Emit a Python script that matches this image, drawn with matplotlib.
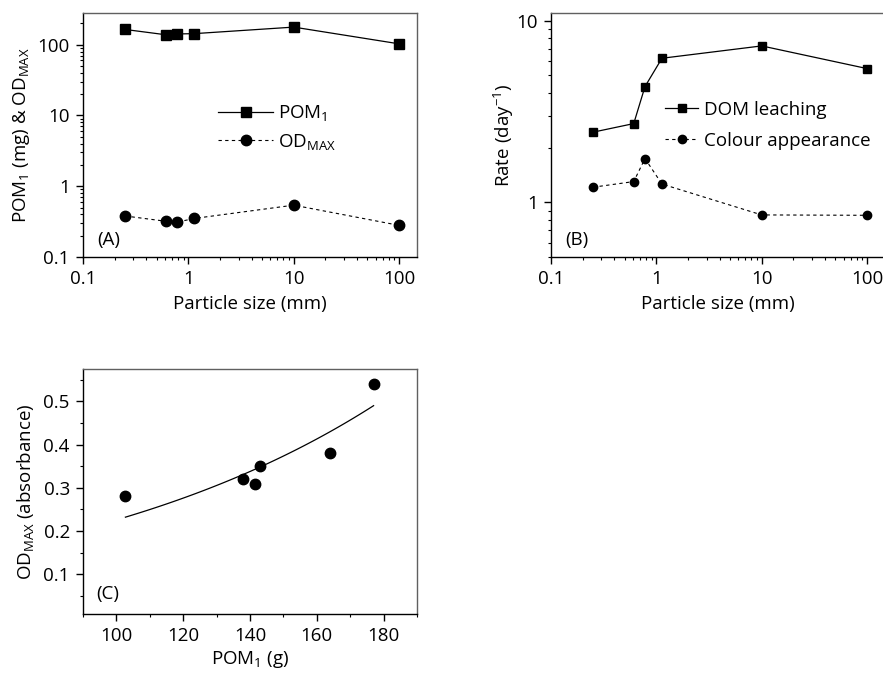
import numpy as np
import matplotlib
matplotlib.use("Agg")
import matplotlib.pyplot as plt
from matplotlib.ticker import FixedLocator, FixedFormatter, LogLocator, NullFormatter, MultipleLocator

plt.rcParams['font.family'] = ['Open Sans', 'DejaVu Sans']
plt.rcParams['mathtext.default'] = 'regular'
plt.rcParams['font.size'] = 13.5

# ---- data ----
particle_size = [0.25, 0.61, 0.78, 1.13, 10, 100]
pom1 = [164, 138, 141.6, 143, 177, 102.7]
od_max = [0.38, 0.32, 0.31, 0.35, 0.54, 0.28]
dom_leaching = [2.43, 2.71, 4.33, 6.2, 7.25, 5.44]
colour_appearance = [1.21, 1.30, 1.74, 1.26, 0.852, 0.848]
# exponential fit OD = a * exp(b * POM1) (panel C)
fit_a = 0.0826
fit_b = 0.01006

x_ticks = [0.1, 1, 10, 100]
x_ticklabels = ['0.1', '1', '10', '100']

W, H = 883, 673
FS = 13.5
fig = plt.figure(figsize=(W / 100, H / 100), dpi=100)

def box(l, r, t, b):
    return [l / W, (H - b) / H, (r - l) / W, (b - t) / H]

def style(ax):
    for s in ['left', 'bottom']:
        ax.spines[s].set_color('black')
        ax.spines[s].set_linewidth(1.0)
    for s in ['top', 'right']:
        ax.spines[s].set_color('#606060')
        ax.spines[s].set_linewidth(1.0)
    ax.tick_params(which='both', direction='out', top=False, right=False, labelsize=FS)
    ax.tick_params(which='major', length=5, width=1, pad=4.5)
    ax.tick_params(which='minor', length=2.5, width=0.8)

# ---- Panel A ----
axA = fig.add_axes(box(83, 417, 13, 257))
axA.set_xscale('log'); axA.set_yscale('log')
axA.plot(particle_size, pom1, '-', color='black', lw=0.9, marker='s', ms=7.5,
         mfc='black', mec='black', label='POM$_1$')
axA.plot(particle_size, od_max, '--', color='black', lw=0.8, dashes=(3, 3), marker='o', ms=7.5,
         mfc='black', mec='black', label='OD$_{MAX}$')
axA.set_xlim(0.1, 148)
axA.set_ylim(0.1, 280)
axA.xaxis.set_major_locator(FixedLocator(x_ticks))
axA.xaxis.set_major_formatter(FixedFormatter(x_ticklabels))
axA.xaxis.set_minor_locator(LogLocator(base=10, subs=np.arange(2, 10)))
axA.xaxis.set_minor_formatter(NullFormatter())
axA.yaxis.set_major_locator(FixedLocator([0.1, 1, 10, 100]))
axA.yaxis.set_major_formatter(FixedFormatter(['0.1', '1', '10', '100']))
axA.yaxis.set_minor_locator(LogLocator(base=10, subs=np.arange(2, 10)))
axA.yaxis.set_minor_formatter(NullFormatter())
axA.set_xlabel('Particle size (mm)', labelpad=5)
axA.set_ylabel('POM$_1$ (mg) & OD$_{MAX}$', labelpad=4)
style(axA)
axA.legend(loc='upper left', bbox_to_anchor=(0.355, 0.70), frameon=False, handlelength=2.9,
           handletextpad=0.3, labelspacing=0.45, fontsize=FS)
axA.text(0.042, 0.07, '(A)', transform=axA.transAxes, fontsize=FS, va='center', ha='left')

# ---- Panel B ----
axB = fig.add_axes(box(551, 885, 13, 257))
axB.set_xscale('log'); axB.set_yscale('log')
axB.plot(particle_size, dom_leaching, '-', color='black', lw=0.9, marker='s', ms=6,
         mfc='black', mec='black', label='DOM leaching')
axB.plot(particle_size, colour_appearance, '--', color='black', lw=0.8, dashes=(3, 3), marker='o', ms=6,
         mfc='black', mec='black', label='Colour appearance')
axB.set_xlim(0.1, 148)
axB.set_ylim(0.5, 11)
axB.xaxis.set_major_locator(FixedLocator(x_ticks))
axB.xaxis.set_major_formatter(FixedFormatter(x_ticklabels))
axB.xaxis.set_minor_locator(LogLocator(base=10, subs=np.arange(2, 10)))
axB.xaxis.set_minor_formatter(NullFormatter())
axB.yaxis.set_major_locator(FixedLocator([1, 10]))
axB.yaxis.set_major_formatter(FixedFormatter(['1', '10']))
axB.yaxis.set_minor_locator(LogLocator(base=10, subs=np.arange(2, 10)))
axB.yaxis.set_minor_formatter(NullFormatter())
axB.set_xlabel('Particle size (mm)', labelpad=5)
axB.set_ylabel('Rate (day$^{-1}$)', labelpad=0)
style(axB)
axB.legend(loc='upper left', bbox_to_anchor=(0.29, 0.71), frameon=False, handlelength=1.8,
           handletextpad=0.3, labelspacing=0.7, fontsize=FS)
axB.text(0.042, 0.07, '(B)', transform=axB.transAxes, fontsize=FS, va='center', ha='left')

# ---- Panel C ----
axC = fig.add_axes(box(83, 417, 369, 614))
axC.plot(pom1, od_max, 'o', color='black', ms=7.5, mfc='black', mec='black', lw=0)
xf = np.linspace(min(pom1), max(pom1), 100)
axC.plot(xf, fit_a * np.exp(fit_b * xf), '-', color='black', lw=0.9)
axC.set_xlim(90, 190)
axC.set_ylim(0.008, 0.575)
axC.xaxis.set_major_locator(FixedLocator([100, 120, 140, 160, 180]))
axC.xaxis.set_minor_locator(MultipleLocator(10))
axC.yaxis.set_major_locator(FixedLocator([0.1, 0.2, 0.3, 0.4, 0.5]))
axC.yaxis.set_major_formatter(FixedFormatter(['0.1', '0.2', '0.3', '0.4', '0.5']))
axC.yaxis.set_minor_locator(FixedLocator([0.05, 0.15, 0.25, 0.35, 0.45, 0.55]))
axC.set_xlabel('POM$_1$ (g)', labelpad=3)
axC.set_ylabel('OD$_{MAX}$ (absorbance)', labelpad=5)
style(axC)
axC.text(0.073, 0.08, '(C)', transform=axC.transAxes, fontsize=FS, va='center', ha='center')

fig.savefig('out.png', dpi=100)
